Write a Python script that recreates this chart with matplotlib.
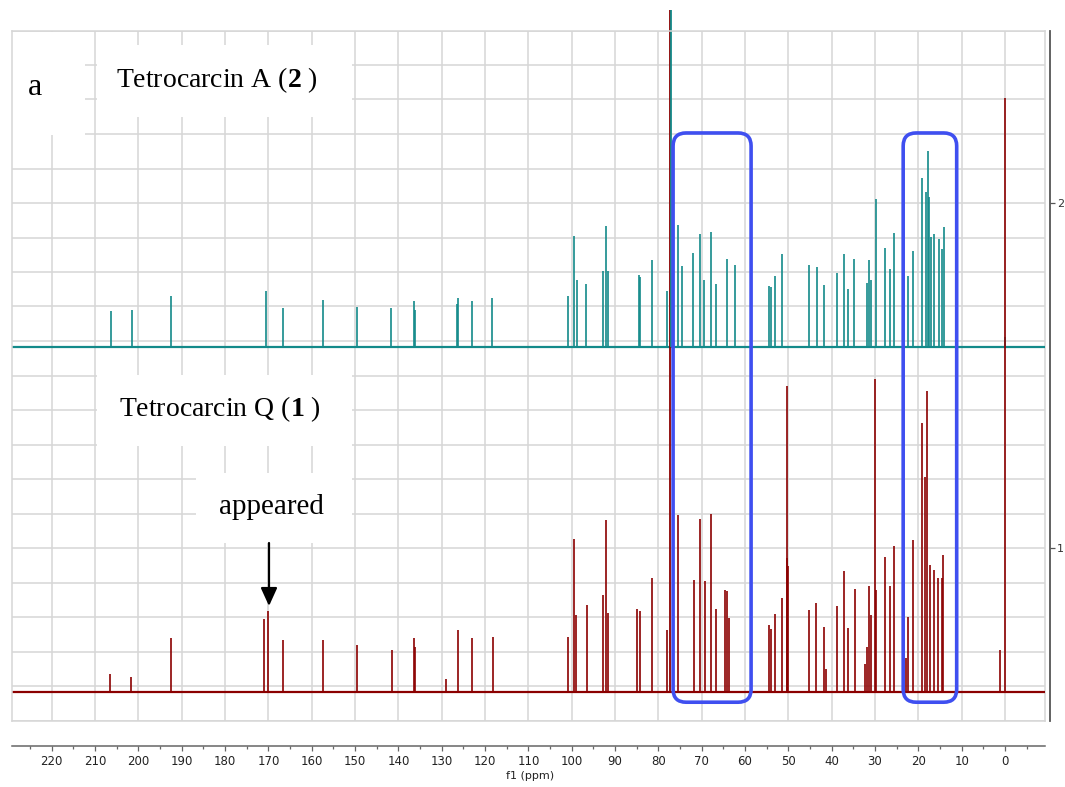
import matplotlib
matplotlib.use("Agg")
import matplotlib.pyplot as plt
from matplotlib.patches import FancyBboxPatch, Rectangle
from matplotlib.ticker import MultipleLocator, FixedLocator

# 13C NMR peaks (ppm) and heights above baseline, Tetrocarcin A (2)
teal_ppm = [206.4, 201.5, 192.4, 170.5, 166.6, 157.3, 149.5, 141.7, 136.5, 136.2,
            126.5, 126.2, 123.0, 118.3,
            100.9, 99.5, 98.7, 96.7, 92.7, 92.1, 91.7, 84.5, 84.2, 81.5, 78.1,
            75.4, 74.6, 71.9, 70.4, 69.5, 67.9, 66.8, 64.1, 62.3,
            54.5, 54.0, 53.1, 51.4, 45.2, 43.5, 41.8, 38.7, 37.2, 36.3, 34.8,
            31.9, 31.5, 31.0, 29.8, 27.7, 26.6, 25.6, 22.3, 21.3,
            19.1, 18.3, 17.8, 17.6, 17.1, 16.3, 15.3, 14.6, 14.1, 0.0]
teal_h = [0.104, 0.107, 0.148, 0.162, 0.113, 0.136, 0.116, 0.113, 0.133, 0.107,
          0.125, 0.142, 0.133, 0.142,
          0.147, 0.321, 0.193, 0.182, 0.220, 0.350, 0.220, 0.208, 0.202, 0.251, 0.162,
          0.354, 0.235, 0.272, 0.328, 0.193, 0.332, 0.181, 0.254, 0.237,
          0.177, 0.174, 0.204, 0.269, 0.238, 0.232, 0.180, 0.215, 0.270, 0.167, 0.256,
          0.185, 0.253, 0.195, 0.429, 0.286, 0.225, 0.331, 0.206, 0.278,
          0.490, 0.449, 0.568, 0.435, 0.319, 0.328, 0.313, 0.283, 0.348, 0.030]

# Tetrocarcin Q (1)
red_ppm = [206.5, 201.6, 192.5, 171.0, 170.2, 166.7, 157.5, 149.6, 141.5, 136.5,
           136.2, 128.9, 126.2, 123.0, 118.2,
           100.9, 99.5, 98.9, 96.5, 92.7, 92.1, 91.7, 84.9, 84.2, 81.4, 78.1,
           75.4, 71.8, 70.4, 69.3, 67.9, 66.7, 64.7, 64.1, 63.6,
           54.5, 54.0, 53.1, 51.4, 50.4, 50.2, 50.0, 45.2, 43.6, 41.8, 41.2,
           38.7, 37.2, 36.3, 34.6, 32.2, 31.9, 31.5, 31.0, 30.0, 29.8,
           27.7, 26.6, 25.6, 22.9, 22.3, 21.3, 19.2, 18.5, 18.1,
           17.3, 16.4, 15.4, 14.6, 14.2, 1.2, 0.0]
red_h = [0.052, 0.043, 0.154, 0.209, 0.232, 0.148, 0.148, 0.136, 0.119, 0.154,
         0.130, 0.035, 0.177, 0.154, 0.157,
         0.159, 0.443, 0.223, 0.252, 0.281, 0.496, 0.229, 0.238, 0.232, 0.330, 0.177,
         0.513, 0.322, 0.499, 0.319, 0.516, 0.238, 0.293, 0.290, 0.212,
         0.194, 0.180, 0.226, 0.272, 0.388, 0.887, 0.365, 0.235, 0.258, 0.188, 0.064,
         0.249, 0.348, 0.183, 0.296, 0.081, 0.130, 0.307, 0.223, 0.907, 0.293,
         0.391, 0.307, 0.423, 0.096, 0.217, 0.438, 0.777, 0.623, 0.872,
         0.368, 0.351, 0.330, 0.328, 0.397, 0.119, 1.719]

# solvent (CDCl3) lines run off the top of the frame
solvent_teal = 77.0
solvent_red = 77.3
solvent_top = 2.559

teal_base = 1.583
red_base = 0.584

TEAL = "#138a8a"
RED = "#8b0000"
BLUE = "#3f4ff0"
GRID = "#d6d6d6"

plt.rcParams["font.family"] = ["DejaVu Sans"]
plt.rcParams["mathtext.fontset"] = "custom"
plt.rcParams["mathtext.rm"] = "Liberation Serif"
plt.rcParams["mathtext.bf"] = "Liberation Serif:bold"

W, H = 1065, 787
fig = plt.figure(figsize=(W / 100, H / 100), dpi=100)
ax = fig.add_axes([12 / W, 1 - 720.5 / H, 1033 / W, 690 / H])
ax.set_xlim(229.17, -9.23)
ax.set_ylim(0.5, 2.5)

ax.xaxis.set_major_locator(MultipleLocator(10))
ax.xaxis.set_minor_locator(MultipleLocator(5))
ax.yaxis.set_major_locator(FixedLocator([1, 2]))
ax.yaxis.set_minor_locator(MultipleLocator(0.1))
ax.set_axisbelow(True)
ax.grid(which="major", axis="x", color=GRID, lw=1.1)
ax.grid(which="both", axis="y", color=GRID, lw=1.1)

ax.yaxis.tick_right()
ax.tick_params(axis="y", which="minor", length=0)
ax.tick_params(axis="y", which="major", length=3.6, width=0.9, color="#555555",
               labelsize=8, labelcolor="#333333", pad=1.5)
ax.tick_params(axis="x", which="major", length=3.6, width=0.9, color="#666666",
               labelsize=8.5, labelcolor="#222222", pad=3)
ax.tick_params(axis="x", which="minor", length=2.2, width=0.9, color="#666666")

for side in ["left", "top"]:
    ax.spines[side].set_color(GRID)
    ax.spines[side].set_linewidth(1.1)
ax.spines["bottom"].set_position(("outward", 18.4))
ax.spines["bottom"].set_color("#666666")
ax.spines["bottom"].set_linewidth(1.1)
ax.spines["right"].set_position(("outward", 3.6))
ax.spines["right"].set_color("#555555")
ax.spines["right"].set_linewidth(1.3)
ax.axhline(0.5, color=GRID, lw=1.1, clip_on=False, zorder=0.6)
ax.axvline(ax.get_xlim()[1], color=GRID, lw=1.1, clip_on=False, zorder=0.6)

# white label panels covering the grid
def fig_rect(x0, y0, x1, y1):
    return Rectangle((x0 / W, 1 - y1 / H), (x1 - x0) / W, (y1 - y0) / H,
                     transform=fig.transFigure, facecolor="white",
                     edgecolor="none", zorder=1, clip_on=False)

for r in [(0, 32, 85, 135), (97, 45, 352, 117), (97, 375, 352, 446),
          (196, 473, 352, 543)]:
    ax.add_patch(fig_rect(*r))

# spectra
ax.axhline(teal_base, color=TEAL, lw=1.6, zorder=2)
ax.vlines(teal_ppm, teal_base, [teal_base + h for h in teal_h],
          colors=TEAL, lw=1.2, zorder=2)
ax.axhline(red_base, color=RED, lw=1.6, zorder=2)
ax.vlines(red_ppm, red_base, [red_base + h for h in red_h],
          colors=RED, lw=1.2, zorder=2)
ax.vlines([solvent_red], red_base, solvent_top, colors=RED, lw=1.3,
          zorder=2, clip_on=False)
ax.vlines([solvent_teal], teal_base, solvent_top, colors=TEAL, lw=1.3,
          zorder=2.1, clip_on=False)

# highlighted regions
asp = (1 / 345) / (1 / 4.333)
for x0, x1 in [(58.6, 76.6), (11.15, 23.5)]:
    ax.add_patch(FancyBboxPatch((x0, 0.553), x1 - x0, 2.203 - 0.553,
                                boxstyle="round,pad=0,rounding_size=3",
                                mutation_aspect=asp, facecolor="none",
                                edgecolor=BLUE, lw=2.6, zorder=3))

serif = ["Liberation Serif", "DejaVu Serif"]
tf = fig.transFigure
ax.text(35 / W, 1 - 95 / H, "a", transform=tf, family=serif, fontsize=23,
        ha="center", va="baseline", zorder=4)
ax.text(217 / W, 1 - 86.7 / H, r"Tetrocarcin A ($\mathbf{2}$ )", transform=tf,
        family=serif, fontsize=20, ha="center", va="baseline", zorder=4)
ax.text(220 / W, 1 - 416 / H, r"Tetrocarcin Q ($\mathbf{1}$ )", transform=tf,
        family=serif, fontsize=20, ha="center", va="baseline", zorder=4)
ax.text(271 / W, 1 - 514 / H, "appeared", transform=tf, family=serif,
        fontsize=21, ha="center", va="baseline", zorder=4)

ax.annotate("", xy=(269 / W, 1 - 606 / H), xytext=(269 / W, 1 - 543 / H),
            xycoords="figure fraction", textcoords="figure fraction",
            arrowprops=dict(arrowstyle="-|>,head_length=1.1,head_width=0.5",
                            color="black", lw=1.6, shrinkA=0, shrinkB=0),
            zorder=4)

fig.text(530 / W, 1 - 776 / H, "f1 (ppm)", fontsize=8, color="#222222",
         ha="center", va="center")

fig.savefig("out.png", dpi=100)
